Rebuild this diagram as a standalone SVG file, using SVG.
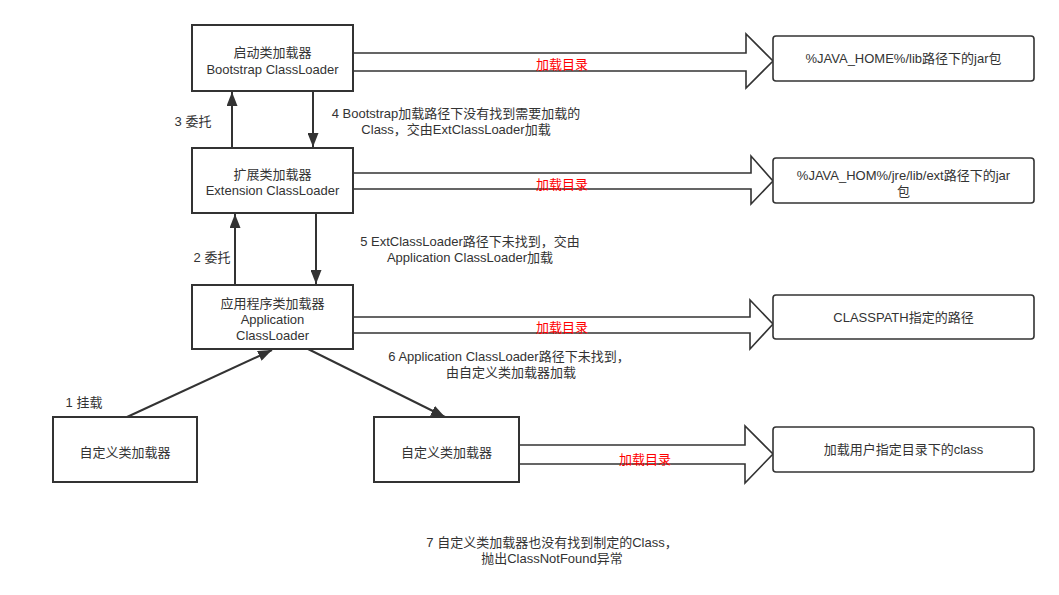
<svg xmlns="http://www.w3.org/2000/svg" width="1059" height="595" viewBox="0 0 1059 595">
<style>
text{font-family:"Liberation Sans","Noto Sans CJK SC",sans-serif;font-size:13px;fill:#333;text-anchor:middle}
.box{fill:#fff;stroke:#333;stroke-width:2}
.rbox{fill:#fff;stroke:#333;stroke-width:1.6}
.blk{fill:#fff;stroke:#333;stroke-width:1.6;stroke-linejoin:miter}
.red{fill:#ff0000}
.con{stroke:#333;stroke-width:2;fill:none}
</style>
<defs>
<marker id="ah" markerUnits="userSpaceOnUse" markerWidth="15" markerHeight="11" refX="14" refY="5.5" orient="auto">
<path d="M0,0 L14,5.5 L0,11 z" fill="#333"/>
</marker>
</defs>
<rect width="1059" height="595" fill="#fff"/>
<g id="connectors">
<polygon class="blk" points="353,53 746,53 746,34 773,61 746,88 746,71 353,71"/>
<polygon class="blk" points="353,173 751,173 751,156 773,181 751,204 751,189 353,189"/>
<polygon class="blk" points="353,317 750,317 750,300 773,324 750,349 750,333 353,333"/>
<polygon class="blk" points="519,445 745,445 745,426 773,454 745,483 745,464 519,464"/>
<text class="red" x="562" y="69">加载目录</text>
<text class="red" x="562" y="189">加载目录</text>
<text class="red" x="562" y="332">加载目录</text>
<text class="red" x="645" y="464">加载目录</text>
<line class="con" x1="232" y1="148" x2="232" y2="92" marker-end="url(#ah)"/>
<line class="con" x1="313" y1="91" x2="313" y2="147" marker-end="url(#ah)"/>
<line class="con" x1="235" y1="285" x2="235" y2="214" marker-end="url(#ah)"/>
<line class="con" x1="316" y1="213" x2="316" y2="284" marker-end="url(#ah)"/>
<line class="con" x1="127" y1="417" x2="272" y2="350" marker-end="url(#ah)"/>
<line class="con" x1="308" y1="349" x2="445" y2="417" marker-end="url(#ah)"/>
<text x="193" y="126">3 委托</text>
<text x="456" y="118">4 Bootstrap加载路径下没有找到需要加载的</text>
<text x="456" y="134">Class，交由ExtClassLoader加载</text>
<text x="212" y="262">2 委托</text>
<text x="470" y="246">5 ExtClassLoader路径下未找到，交由</text>
<text x="470" y="262">Application ClassLoader加载</text>
<text x="84" y="407">1 挂载</text>
<text x="509" y="361">6 Application ClassLoader路径下未找到，</text>
<text x="511" y="377">由自定义类加载器加载</text>
<text x="552" y="547">7 自定义类加载器也没有找到制定的Class，</text>
<text x="552" y="563">抛出ClassNotFound异常</text>
</g>
<g id="bootstrap">
<rect class="box" x="192" y="25" width="161" height="66"/>
<text x="272.5" y="56.5">启动类加载器</text>
<text x="272.5" y="73.5">Bootstrap ClassLoader</text>
</g>
<g id="extension">
<rect class="box" x="192" y="148" width="161" height="65"/>
<text x="272.5" y="178.5">扩展类加载器</text>
<text x="272.5" y="195">Extension ClassLoader</text>
</g>
<g id="application">
<rect class="box" x="192" y="285" width="161" height="64"/>
<text x="272.5" y="307.5">应用程序类加载器</text>
<text x="272.5" y="323.5">Application</text>
<text x="272.5" y="340">ClassLoader</text>
</g>
<g id="custom1">
<rect class="box" x="53" y="417" width="144" height="65"/>
<text x="125" y="456.5">自定义类加载器</text>
</g>
<g id="custom2">
<rect class="box" x="374" y="417" width="145" height="65"/>
<text x="446.5" y="456.5">自定义类加载器</text>
</g>
<g id="target-lib">
<rect class="rbox" x="773" y="36" width="261" height="45" rx="3"/>
<text x="903.5" y="63">%JAVA_HOME%/lib路径下的jar包</text>
</g>
<g id="target-ext">
<rect class="rbox" x="773" y="158" width="261" height="45" rx="3"/>
<text x="903.5" y="180">%JAVA_HOM%/jre/lib/ext路径下的jar</text>
<text x="903.5" y="196">包</text>
</g>
<g id="target-classpath">
<rect class="rbox" x="773" y="295" width="261" height="44" rx="3"/>
<text x="903.5" y="321.5">CLASSPATH指定的路径</text>
</g>
<g id="target-user">
<rect class="rbox" x="773" y="427" width="261" height="45" rx="3"/>
<text x="903.5" y="454">加载用户指定目录下的class</text>
</g>
</svg>
